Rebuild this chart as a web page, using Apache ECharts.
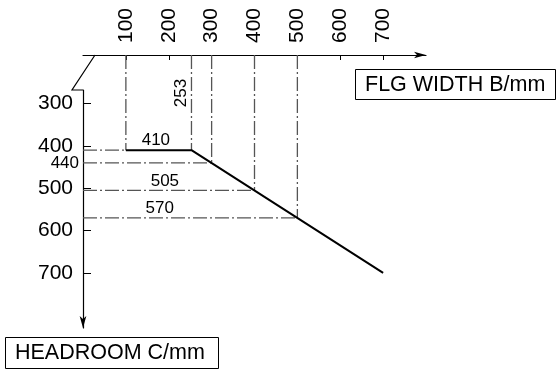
<!DOCTYPE html>
<html>
<head>
<meta charset="utf-8">
<script src="https://cdn.jsdelivr.net/npm/echarts@6/dist/echarts.min.js"></script>
<style>
html, body { margin: 0; padding: 0; background: #fff; }
#chart { width: 556px; height: 370px; }
</style>
</head>
<body>
<div id="chart"></div>
<script>
// 刻度
const xTicks = [100, 200, 300, 400, 500, 600, 700]
const yTicks = [300, 400, 500, 600, 700]
// 曲线 B -> C
const profileB = [100, 253, 700]
const profileC = [410, 410, 700]
// 点划线辅助线
const guideB = [100, 253, 300, 400, 500]
const guideC = [410, 410, 440, 505, 570]

const X_MIN = 0, X_MAX = 800
const Y_MIN = 268, Y_MAX = 830
const GRID = { left: 83, right: 130, top: 90, bottom: 42 }
const AXIS_GAP = 35 // x轴在网格上方的距离
const FONT = '"Liberation Sans", Arial, sans-serif'

let myChart = echarts.init(document.getElementById('chart'))
const gridH = 370 - GRID.top - GRID.bottom
const yTop = Y_MIN - AXIS_GAP * (Y_MAX - Y_MIN) / gridH

const dashStyle = { color: '#555', width: 1.3, type: [14, 3, 2, 3] }
let series = []
let seenC = {}
guideB.forEach((b, i) => {
  const c = guideC[i]
  // 竖线
  series.push({
    type: 'line', clip: false, symbol: 'none', silent: true,
    lineStyle: dashStyle, data: [[b, yTop], [b, c]]
  })
  // 横线（同一高度只画一次）
  if (!seenC[c]) {
    seenC[c] = true
    series.push({
      type: 'line', clip: false, symbol: 'none', silent: true,
      lineStyle: dashStyle, data: [[X_MIN, c], [b, c]]
    })
  }
})
series.push({
  type: 'line', clip: false, symbol: 'none', silent: true, z: 5,
  lineStyle: { color: '#000', width: 2 },
  data: profileB.map((b, i) => [b, profileC[i]])
})

let option = {
  animation: false,
  grid: GRID,
  xAxis: {
    type: 'value', position: 'top', offset: AXIS_GAP,
    min: X_MIN, max: X_MAX, interval: 100,
    axisLine: { show: true, symbol: ['none', 'arrow'], symbolSize: [5, 12], lineStyle: { color: '#000', width: 1.2 } },
    axisTick: { show: true, inside: true, length: 5, customValues: xTicks, lineStyle: { color: '#000' } },
    axisLabel: { customValues: xTicks, rotate: -90, margin: 12, fontSize: 21, color: '#000', fontFamily: FONT },
    splitLine: { show: false }
  },
  yAxis: {
    type: 'value', inverse: true,
    min: Y_MIN, max: Y_MAX, interval: 100,
    axisLine: { show: true, symbol: ['arrow', 'none'], symbolSize: [5, 12], lineStyle: { color: '#000', width: 1.2 } },
    axisTick: { show: true, inside: true, length: 8, customValues: yTicks, lineStyle: { color: '#000' } },
    axisLabel: { customValues: yTicks, margin: 10, fontSize: 21, color: '#000', fontFamily: FONT },
    splitLine: { show: false }
  },
  series: series
}
myChart.setOption(option)

// 标注与装饰
const px = (b, c) => myChart.convertToPixel({ gridIndex: 0 }, [b, c])
const corner = px(X_MIN, Y_MIN)
const smallFont = { fontSize: 17, fill: '#000', fontFamily: FONT }
const notes = [
  { text: '410', at: [170, 410] },
  { text: '505', at: [191, 505] },
  { text: '570', at: [179, 570] }
]
let graphic = []
notes.forEach(n => {
  const p = px(n.at[0], n.at[1])
  graphic.push({ type: 'text', x: p[0], y: p[1] - 1, style: Object.assign({ text: n.text, align: 'center', verticalAlign: 'bottom' }, smallFont) })
})
const p440 = px(X_MIN, 440)
graphic.push({ type: 'text', x: p440[0] - 4, y: p440[1], style: Object.assign({ text: '440', align: 'right', verticalAlign: 'middle' }, smallFont) })
const p253 = px(253, 275)
graphic.push({ type: 'text', x: p253[0] - 10, y: p253[1], rotation: Math.PI / 2, style: Object.assign({ text: '253', align: 'center', verticalAlign: 'middle' }, smallFont) })
// 断轴符号
graphic.push({
  type: 'polyline',
  shape: { points: [[corner[0] + 12, corner[1] - AXIS_GAP], [corner[0] - 11, corner[1]], [corner[0], corner[1]]] },
  style: { stroke: '#000', lineWidth: 1.2, fill: null }
})
// 轴名称框
graphic.push({ type: 'rect', shape: { x: 355.5, y: 69.5, width: 200, height: 30 }, style: { stroke: '#000', lineWidth: 1, fill: '#fff' } })
graphic.push({ type: 'text', x: 365, y: 85, style: { text: 'FLG WIDTH B/mm', fontSize: 21.5, fill: '#000', fontFamily: FONT, verticalAlign: 'middle' } })
graphic.push({ type: 'rect', shape: { x: 5.5, y: 337.5, width: 213, height: 31 }, style: { stroke: '#000', lineWidth: 1, fill: '#fff' } })
graphic.push({ type: 'text', x: 15, y: 353, style: { text: 'HEADROOM C/mm', fontSize: 21.5, fill: '#000', fontFamily: FONT, verticalAlign: 'middle' } })
myChart.setOption({ graphic: graphic })
</script>
</body>
</html>
